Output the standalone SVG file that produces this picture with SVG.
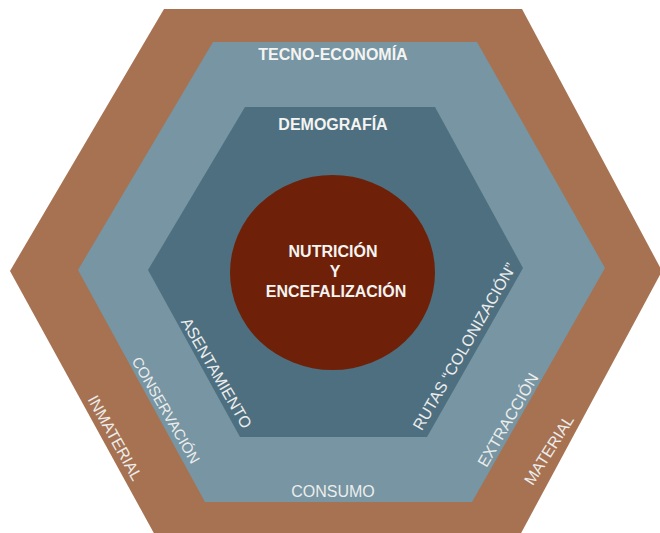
<svg xmlns="http://www.w3.org/2000/svg" width="660" height="533" viewBox="0 0 660 533">
  <style>
    .title { font-family: "Liberation Sans", Arial, sans-serif; font-size: 16px; font-weight: bold; fill: #F4F4F2; text-anchor: middle; }
    .side { font-family: "Liberation Sans", Arial, sans-serif; font-size: 16px; fill: #ECEDEC; text-anchor: middle; }
  </style>
  <rect width="660" height="533" fill="#FFFFFF"/>
  <g id="outer-material-inmaterial">
    <polygon points="164,9 522,9 662,271 519,537 156,537 10,271" fill="#A67252"/>
    <text class="side" transform="translate(115,438) rotate(61)" y="5.5">INMATERIAL</text>
    <text class="side" transform="translate(549,450) rotate(-58)" y="5.5">MATERIAL</text>
  </g>
  <g id="tecno-economia">
    <polygon points="213,42 477,42 605,268 472,502 205,502 78,270" fill="#7795A2"/>
    <text class="title" x="333" y="60">TECNO-ECONOMÍA</text>
    <text class="side" x="333" y="497">CONSUMO</text>
    <text class="side" style="font-size:15px" transform="translate(166,410) rotate(60)" y="5.5">CONSERVACIÓN</text>
    <text class="side" transform="translate(508,420) rotate(-60)" y="5.5">EXTRACCIÓN</text>
  </g>
  <g id="demografia">
    <polygon points="245,107 435,107 523,268 427,437 240,437 148,270" fill="#4E6F80"/>
    <text class="title" x="333" y="130">DEMOGRAFÍA</text>
    <text class="side" transform="translate(216.5,373) rotate(60)" y="5.5">ASENTAMIENTO</text>
    <text class="side" transform="translate(464.5,346.5) rotate(-60)" y="5.5">RUTAS “COLONIZACIÓN”</text>
  </g>
  <g id="nutricion-encefalizacion">
    <ellipse cx="332.5" cy="272.5" rx="102.5" ry="97.5" fill="#6E2108"/>
    <text class="title" x="333" y="257">NUTRICIÓN</text>
    <text class="title" x="335" y="277">Y</text>
    <text class="title" x="336" y="297">ENCEFALIZACIÓN</text>
  </g>
  <g id="connectors"/>
</svg>
